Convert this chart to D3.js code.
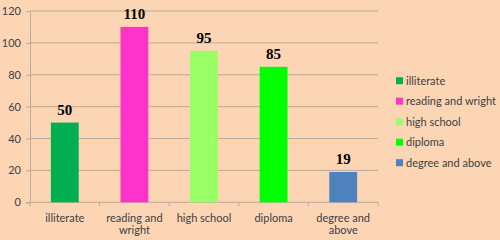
<!DOCTYPE html>
<html>
<head>
<meta charset="utf-8">
<script src="https://cdn.jsdelivr.net/npm/d3@7"></script>
<style>
  body { margin: 0; background: #FCD5B5; }
  svg { display: block; }
</style>
</head>
<body>
<svg></svg>
<script>
// chart data
const categories = ["illiterate", "reading and wright", "high school", "diploma", "degree and above"]
const values = [50, 110, 95, 85, 19]
const colors = ["#00B050", "#FF33CC", "#99FF66", "#00FF00", "#4F81BD"]
const yTicks = [0, 20, 40, 60, 80, 100, 120]
// axis labels split onto lines like the original
const xLabelLines = [["illiterate"], ["reading and", "wright"], ["high school"], ["diploma"], ["degree and", "above"]]

const
    svgWidth = 500,
    svgHeight = 240,
    LEFT = 30,
    RIGHT = 378,
    TOP = 11,
    BOTTOM = 202.3

const labelFont = "Lato, 'Open Sans', sans-serif"
const gridColor = "#B9AB9E"

let svg = d3.select('svg')
    .attr('width', svgWidth)
    .attr('height', svgHeight)

svg.append('rect')
    .attr('width', svgWidth)
    .attr('height', svgHeight)
    .attr('fill', '#FCD5B5')

let x = d3.scaleBand()
    .domain(categories)
    .range([LEFT, RIGHT])
    .paddingInner(0.6)
    .paddingOuter(0.3)

let y = d3.scaleLinear()
    .domain([0, 120])
    .range([BOTTOM, TOP])

// gridlines
svg.append('g')
    .selectAll('line')
    .data(yTicks.slice(1))
    .join('line')
    .attr('x1', LEFT)
    .attr('x2', RIGHT)
    .attr('y1', d => y(d))
    .attr('y2', d => y(d))
    .attr('stroke', gridColor)
    .attr('stroke-width', 1)

// y axis
let yAxis = svg.append('g')
    .attr('transform', `translate(${LEFT},0)`)
    .call(d3.axisLeft(y).tickValues(yTicks).tickSize(4).tickPadding(5))
yAxis.select('.domain').attr('stroke', gridColor)
yAxis.selectAll('.tick line').attr('stroke', gridColor)
yAxis.selectAll('.tick text')
    .attr('font-family', labelFont)
    .attr('font-size', 11)
    .attr('fill', '#404040')

// x axis line and ticks between categories
svg.append('line')
    .attr('x1', LEFT).attr('x2', RIGHT)
    .attr('y1', BOTTOM).attr('y2', BOTTOM)
    .attr('stroke', gridColor)

const step = x.step()
svg.append('g')
    .selectAll('line')
    .data(d3.range(categories.length + 1))
    .join('line')
    .attr('x1', i => LEFT + i * (RIGHT - LEFT) / categories.length)
    .attr('x2', i => LEFT + i * (RIGHT - LEFT) / categories.length)
    .attr('y1', BOTTOM)
    .attr('y2', BOTTOM + 4)
    .attr('stroke', gridColor)

// bars
svg.append('g')
    .selectAll('rect')
    .data(values)
    .join('rect')
    .attr('x', (d, i) => x(categories[i]))
    .attr('y', d => y(d))
    .attr('width', x.bandwidth())
    .attr('height', d => BOTTOM - y(d))
    .attr('fill', (d, i) => colors[i])

// value labels
svg.append('g')
    .selectAll('text')
    .data(values)
    .join('text')
    .text(d => d)
    .attr('x', (d, i) => x(categories[i]) + x.bandwidth() / 2)
    .attr('y', d => y(d) - 8)
    .attr('text-anchor', 'middle')
    .attr('font-family', "'Liberation Serif', 'Times New Roman', serif")
    .attr('font-weight', 'bold')
    .attr('font-size', 15)
    .attr('fill', '#000')

// category labels
let xl = svg.append('g')
    .selectAll('text')
    .data(xLabelLines)
    .join('text')
    .attr('x', (d, i) => x(categories[i]) + x.bandwidth() / 2)
    .attr('y', 221.5)
    .attr('text-anchor', 'middle')
    .attr('font-family', labelFont)
    .attr('font-size', 11)
    .attr('fill', '#404040')
xl.selectAll('tspan')
    .data(d => d)
    .join('tspan')
    .attr('x', function () { return d3.select(this.parentNode).attr('x') })
    .attr('dy', (d, i) => i === 0 ? 0 : 12.5)
    .text(d => d)

// legend
let legend = svg.append('g')
    .selectAll('g')
    .data(categories)
    .join('g')
    .attr('transform', (d, i) => `translate(396,${80.7 + i * 20.5})`)

legend.append('rect')
    .attr('x', 0)
    .attr('y', -3.5)
    .attr('width', 7)
    .attr('height', 7)
    .attr('fill', (d, i) => colors[i])

legend.append('text')
    .text(d => d)
    .attr('x', 10)
    .attr('y', 4)
    .attr('font-family', labelFont)
    .attr('font-size', 11)
    .attr('fill', '#404040')
</script>
</body>
</html>
